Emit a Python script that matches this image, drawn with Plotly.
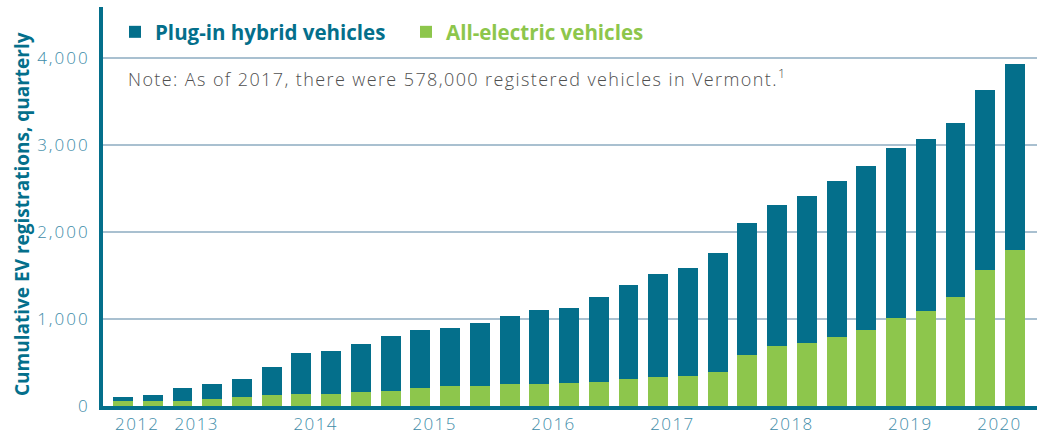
import plotly.graph_objects as go

# Quarterly positions (31 quarters shown), year labels start at these bar indices
bar_index = list(range(31))
years = ["2012", "2013", "2014", "2015", "2016", "2017", "2018", "2019", "2020"]
year_first_bar = [0, 2, 6, 10, 14, 18, 22, 26, 29]

total = [109, 132, 212, 247, 305, 453, 613, 636, 717, 808, 877, 900, 958, 1038,
         1107, 1130, 1256, 1393, 1519, 1588, 1760, 2104, 2311, 2414, 2586, 2758,
         2964, 3067, 3251, 3630, 3928]
all_electric = [52, 63, 63, 86, 109, 132, 143, 143, 166, 178, 212, 224, 235, 247,
                258, 264, 281, 315, 338, 350, 396, 591, 694, 728, 797, 876,
                1015, 1095, 1256, 1566, 1795]
plug_in_hybrid = [t - e for t, e in zip(total, all_electric)]

y_ticks = [0, 1000, 2000, 3000, 4000]
y_tick_labels = ["0", "1,000", "2,000", "3,000", "4,000"]

TEAL = "#046f8b"
GREEN = "#8dc64c"
GRID = "#a9c0d0"
TICK = "#3d8ca8"
FONT = "Open Sans"

W, H = 1043, 435
ML, MR, MT, MB = 103, 6, 7, 29
PW, PH = W - ML - MR, H - MT - MB


def px_x(x):
    return (x - ML) / PW


def px_y(y):
    return (H - MB - y) / PH


def spaced(t, s):
    return '<span style="letter-spacing:%spx">%s</span>' % (s, t)


fig = go.Figure()
fig.add_trace(go.Bar(
    x=bar_index, y=all_electric, marker_color=GREEN, marker_line_width=0,
    name='<span style="color:%s"><b>All-electric vehicles</b></span>' % GREEN,
    width=0.67,
))
fig.add_trace(go.Bar(
    x=bar_index, y=plug_in_hybrid, marker_color=TEAL, marker_line_width=0,
    name='<span style="color:%s"><b>Plug-in hybrid vehicles</b></span>' % TEAL,
    width=0.67,
))

fig.update_layout(
    width=W, height=H,
    margin=dict(l=ML, r=MR, t=MT, b=MB, autoexpand=False),
    barmode="stack",
    plot_bgcolor="white", paper_bgcolor="white",
    font=dict(family=FONT, size=17, color=TICK),
    showlegend=True,
    legend=dict(
        orientation="h", traceorder="reversed",
        x=px_x(115), y=px_y(12), xanchor="left", yanchor="top",
        font=dict(family=FONT, size=20.5),
        bgcolor="rgba(0,0,0,0)",
        entrywidth=246, entrywidthmode="pixels",
    ),
    xaxis=dict(
        automargin=False,
        range=[-0.673, 30.74],
        tickmode="array",
        tickvals=[i - 0.335 for i in year_first_bar],
        ticktext=[spaced(y, 1.4) for y in years],
        ticklabelposition="outside right",
        ticks="", showgrid=False, zeroline=False,
        showline=True, linewidth=4, linecolor=TEAL,
        tickfont=dict(family=FONT, size=17, color=TICK, weight=300),
    ),
    yaxis=dict(
        automargin=False,
        range=[0, 4581],
        tickmode="array", tickvals=y_ticks,
        ticktext=[spaced(t, 2) for t in y_tick_labels],
        ticks="", showgrid=True, gridcolor=GRID, gridwidth=1.5,
        zeroline=False, ticklabelstandoff=6,
        showline=True, linewidth=4, linecolor=TEAL,
        tickfont=dict(family=FONT, size=17, color=TICK, weight=300),
    ),
    annotations=[
        dict(
            text=spaced("Note: As of 2017, there were 578,000 registered vehicles in Vermont.", 1.4)
            + "<sup>1</sup>",
            xref="paper", yref="paper", x=px_x(126), y=px_y(78),
            xanchor="left", yanchor="middle", showarrow=False,
            font=dict(family=FONT, size=18, color="#4f4f4f", weight=300),
        ),
        dict(
            text="<b>Cumulative EV registrations, quarterly</b>",
            xref="paper", yref="paper", x=px_x(22), y=px_y(214),
            xanchor="center", yanchor="middle", textangle=-90, showarrow=False,
            font=dict(family=FONT, size=19, color=TEAL),
        ),
    ],
)

fig.write_html("out.html", config={"displayModeBar": False},
               post_script="document.body.style.margin='0';")
